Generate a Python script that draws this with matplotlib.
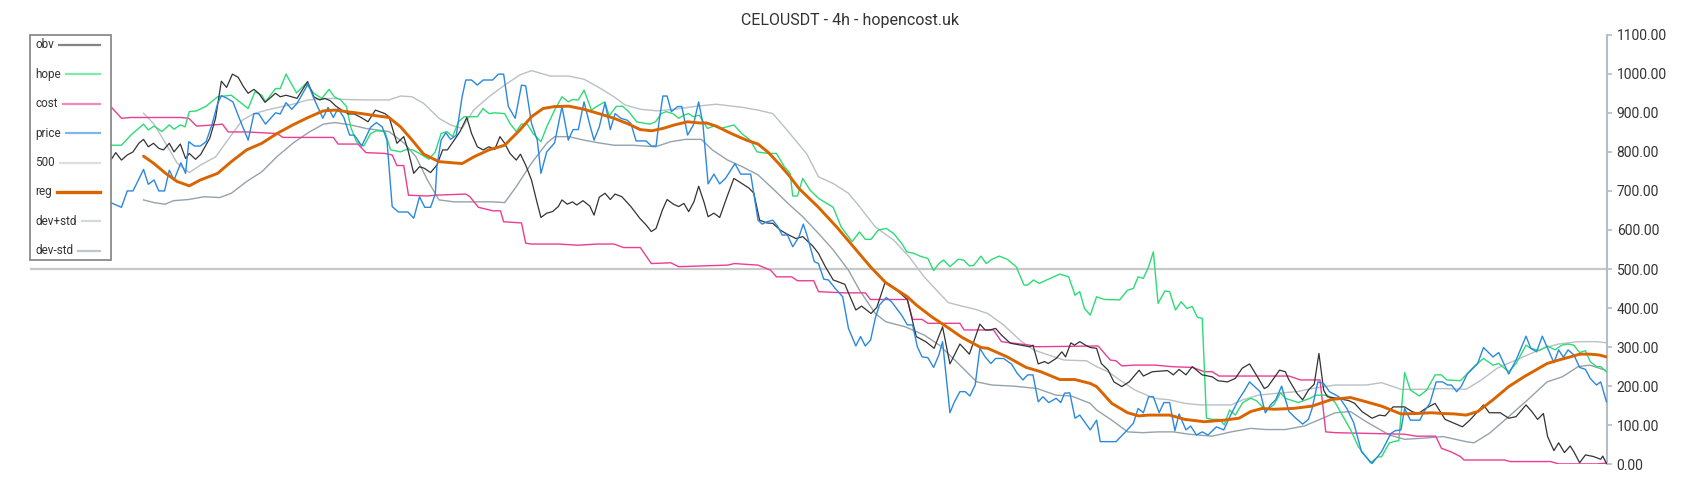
import matplotlib
matplotlib.use("Agg")
import matplotlib.pyplot as plt
from matplotlib.patches import Rectangle
from matplotlib.lines import Line2D
from matplotlib.ticker import FormatStrFormatter

plt.rcParams['font.family'] = ['Roboto', 'DejaVu Sans']

TITLE = "CELOUSDT - 4h - hopencost.uk"
LEGEND_LABELS = ["obv", "hope", "cost", "price", "500", "reg", "dev+std", "dev-std"]
Y_TICKS = [0, 100, 200, 300, 400, 500, 600, 700, 800, 900, 1000, 1100]
LEVEL = 500

# (bar index, value) pairs
price = [(15.0, 672), (17.4, 658), (18.5, 700), (19.6, 700), (21.6, 755), (22.5, 717), (23.6, 728), (24.5, 700),
         (25.6, 700), (26.5, 753), (27.4, 728), (28.7, 772), (29.6, 745), (30.2, 826), (31.3, 815), (32.4, 815),
         (33.5, 826), (34.6, 869), (35.7, 924), (36.4, 944), (37.5, 937), (38.6, 928), (39.7, 890), (41.5, 830),
         (42.6, 898), (43.5, 898), (44.8, 871), (46.7, 900), (47.6, 897), (48.7, 926), (49.8, 909), (50.8, 924),
         (52.9, 974), (54.0, 937), (55.7, 886), (56.7, 914), (57.7, 888), (58.6, 911), (59.7, 888), (60.8, 843),
         (61.7, 843), (63.1, 815), (64.8, 863), (65.9, 875), (67.0, 864), (67.9, 830), (68.9, 660), (70.1, 646),
         (71.9, 646), (73.0, 630), (74.1, 685), (75.1, 658), (76.2, 658), (77.1, 692), (77.4, 762), (78.2, 830),
         (79.1, 849), (80.0, 832), (81.1, 843), (82.2, 941), (82.9, 984), (84.0, 984), (85.1, 971), (86.2, 984),
         (88.0, 984), (89.1, 999), (90.1, 999), (91.0, 916), (92.3, 886), (93.5, 971), (94.3, 969), (95.4, 873),
         (96.5, 830), (97.2, 745), (98.3, 800), (99.8, 823), (101.2, 916), (102.4, 830), (103.3, 857), (104.3, 857),
         (105.4, 928), (106.5, 869), (107.3, 830), (108.3, 864), (109.4, 926), (110.4, 857), (111.3, 898),
         (112.4, 886), (113.6, 881), (114.3, 873), (115.3, 828), (117.2, 828), (118.2, 815), (119.1, 815),
         (119.7, 881), (120.4, 943), (121.2, 943), (122.0, 903), (123.2, 916), (124.0, 916), (125.1, 843),
         (126.2, 869), (127.2, 928), (128.0, 873), (129.0, 718), (130.1, 743), (131.2, 718), (132.3, 732),
         (134.1, 770), (135.2, 743), (137.1, 743), (138.5, 625), (139.3, 615), (140.2, 621), (141.3, 625),
         (142.2, 610), (143.1, 587), (144.1, 587), (145.1, 557), (146.3, 583), (147.1, 615), (147.8, 587),
         (149.2, 519), (150.0, 514), (151.0, 474), (151.9, 472), (153.2, 450), (154.6, 429), (155.7, 348),
         (157.1, 303), (158.0, 327), (158.9, 303), (159.9, 318), (160.8, 374), (161.6, 408), (162.9, 427),
         (163.9, 416), (165.8, 382), (166.9, 357), (167.9, 357), (168.8, 301), (169.7, 275), (170.8, 273),
         (171.9, 248), (172.9, 280), (173.6, 314), (175.0, 132), (175.8, 158), (176.9, 186), (177.9, 186),
         (178.8, 175), (179.8, 203), (180.7, 297), (181.7, 275), (182.8, 258), (183.7, 271), (185.2, 271),
         (186.7, 257), (187.8, 233), (188.9, 216), (189.8, 229), (190.8, 229), (191.8, 160), (192.7, 173),
         (193.8, 158), (195.2, 169), (196.1, 158), (196.8, 182), (197.8, 183), (198.8, 118), (199.7, 126),
         (200.6, 109), (201.7, 88), (202.9, 113), (203.6, 58), (206.6, 58), (208.4, 83), (209.9, 105),
         (210.8, 143), (211.8, 132), (212.8, 173), (213.7, 173), (214.8, 132), (215.7, 158), (216.8, 158),
         (217.8, 86), (218.6, 129), (219.9, 88), (220.8, 98), (221.9, 75), (223.0, 83), (224.1, 75), (225.7, 96),
         (227.1, 88), (228.4, 126), (229.9, 165), (231.1, 190), (232.0, 211), (234.0, 186), (235.0, 132),
         (236.0, 152), (237.0, 166), (238.1, 200), (239.5, 135), (240.8, 118), (242.1, 103), (243.2, 115),
         (243.9, 143), (245.0, 211), (246.1, 207), (247.2, 186), (249.0, 173), (250.5, 143), (251.8, 107),
         (253.3, 32), (255.3, 2), (257.1, 32), (258.9, 79), (259.7, 86), (260.8, 88), (261.5, 143), (262.6, 113),
         (264.4, 113), (265.2, 135), (266.3, 156), (267.5, 211), (268.7, 211), (269.7, 203), (270.4, 203),
         (271.4, 186), (272.3, 200), (273.4, 231), (275.4, 258), (276.5, 299), (278.3, 275), (279.4, 286),
         (281.3, 231), (282.7, 267), (284.6, 328), (285.5, 297), (286.6, 288), (287.7, 328), (288.7, 297),
         (289.9, 260), (290.8, 293), (291.7, 274), (292.6, 293), (293.7, 280), (294.8, 248), (295.9, 243),
         (296.8, 220), (298.0, 203), (298.8, 211), (299.9, 160)]

obv = [(15.0, 771), (16.3, 798), (17.4, 779), (18.5, 792), (19.6, 800), (20.7, 822), (21.6, 832), (22.5, 813),
       (23.5, 822), (24.5, 809), (25.4, 805), (26.5, 822), (27.4, 800), (28.6, 820), (29.6, 783), (30.3, 796),
       (31.5, 781), (32.5, 794), (34.2, 835), (35.3, 886), (36.4, 981), (37.4, 965), (38.5, 999), (39.6, 991),
       (40.6, 967), (41.5, 950), (42.6, 960), (43.5, 950), (44.7, 927), (45.6, 937), (46.7, 950), (47.6, 941),
       (48.7, 945), (49.8, 941), (50.8, 937), (52.8, 980), (54.0, 941), (55.1, 933), (56.1, 937), (57.1, 931),
       (58.2, 917), (59.3, 907), (60.6, 897), (61.7, 897), (63.0, 888), (64.3, 877), (65.7, 907), (67.5, 898),
       (68.3, 890), (69.8, 822), (71.1, 839), (71.9, 805), (73.0, 745), (74.1, 762), (75.0, 758), (76.2, 747),
       (77.4, 766), (78.5, 805), (79.4, 805), (80.7, 830), (81.8, 852), (83.1, 888), (84.0, 847), (85.1, 813),
       (86.2, 805), (87.3, 813), (88.4, 806), (89.4, 839), (90.3, 822), (91.3, 796), (92.5, 779), (93.3, 794),
       (94.3, 766), (95.4, 728), (96.5, 668), (97.2, 632), (98.3, 643), (99.4, 647), (100.5, 660), (101.2, 677),
       (102.2, 666), (103.2, 672), (104.0, 664), (105.2, 675), (106.5, 661), (107.3, 638), (108.3, 684),
       (109.4, 694), (110.4, 678), (111.3, 692), (112.6, 685), (114.3, 660), (116.0, 630), (117.2, 613),
       (118.2, 596), (119.1, 604), (120.3, 651), (121.2, 678), (122.4, 666), (123.4, 660), (124.4, 668),
       (125.3, 647), (126.3, 672), (127.2, 712), (128.2, 672), (129.0, 634), (130.1, 643), (131.2, 632),
       (132.6, 685), (133.9, 732), (135.2, 721), (136.8, 707), (137.7, 694), (138.8, 625), (140.2, 618),
       (141.3, 617), (142.7, 600), (143.8, 591), (145.7, 578), (147.0, 583), (148.9, 559), (150.0, 540),
       (151.3, 506), (152.8, 472), (155.0, 461), (157.1, 395), (158.2, 405), (160.0, 386), (161.1, 402),
       (162.7, 467), (164.0, 456), (166.9, 422), (168.6, 327), (170.4, 314), (172.0, 297), (173.6, 352),
       (175.0, 257), (176.9, 308), (178.7, 282), (180.7, 359), (181.7, 344), (182.6, 344), (183.7, 348),
       (184.8, 331), (186.5, 310), (190.2, 301), (190.8, 305), (191.8, 257), (193.0, 263), (193.7, 258),
       (195.2, 271), (196.3, 288), (197.0, 275), (198.0, 311), (198.7, 305), (199.7, 314), (200.8, 305),
       (201.7, 299), (202.9, 297), (203.8, 258), (205.1, 241), (206.2, 211), (207.7, 199), (209.1, 211),
       (211.0, 241), (211.8, 226), (213.5, 237), (216.4, 240), (217.5, 229), (218.6, 243), (219.9, 229),
       (221.1, 250), (223.0, 229), (224.9, 224), (226.0, 214), (227.8, 211), (229.3, 220), (230.6, 246),
       (232.0, 257), (233.5, 224), (234.8, 194), (235.5, 199), (237.7, 241), (238.8, 237), (239.5, 216),
       (241.0, 182), (242.1, 165), (243.2, 190), (244.3, 205), (245.2, 284), (246.1, 190), (246.8, 173),
       (248.7, 169), (250.9, 163), (252.0, 156), (253.4, 135), (255.3, 118), (256.7, 126), (257.8, 124),
       (259.3, 147), (261.5, 147), (262.9, 135), (264.1, 130), (265.5, 143), (267.3, 156), (269.2, 115),
       (270.6, 107), (272.5, 96), (273.9, 113), (275.4, 135), (276.5, 152), (277.6, 132), (279.7, 132),
       (281.3, 118), (282.7, 122), (284.6, 152), (285.7, 135), (286.8, 115), (287.9, 130), (288.7, 71),
       (289.9, 35), (290.8, 55), (291.9, 30), (293.0, 47), (293.7, 32), (294.8, 4), (295.9, 24), (297.4, 20),
       (298.8, 13), (299.2, 21), (299.9, 2)]

hope = [(15.0, 817), (17.4, 817), (19.2, 843), (21.6, 871), (22.5, 856), (23.6, 866), (25.1, 852), (26.5, 869),
        (27.4, 858), (28.6, 869), (29.5, 864), (30.3, 903), (31.7, 905), (33.5, 917), (35.7, 941), (38.3, 945),
        (40.1, 926), (41.5, 911), (42.8, 954), (44.1, 945), (44.8, 928), (46.7, 962), (47.6, 962), (48.7, 999),
        (50.7, 951), (52.5, 975), (54.0, 950), (55.5, 937), (56.9, 960), (57.9, 941), (59.1, 933), (60.2, 916),
        (61.0, 864), (62.1, 826), (63.5, 815), (64.8, 847), (65.9, 854), (67.5, 852), (68.6, 805), (70.5, 800),
        (71.6, 806), (72.8, 805), (74.1, 796), (75.9, 781), (77.1, 800), (78.2, 847), (79.3, 852), (80.4, 839),
        (81.5, 877), (82.6, 890), (85.1, 890), (86.2, 911), (87.3, 898), (88.4, 900), (90.3, 898), (91.3, 873),
        (92.5, 852), (93.5, 871), (94.6, 871), (95.7, 847), (97.2, 826), (98.3, 864), (99.8, 907), (101.2, 941),
        (102.4, 928), (103.2, 934), (104.3, 933), (105.4, 958), (106.8, 907), (107.8, 916), (109.3, 928),
        (110.2, 892), (111.5, 916), (112.7, 917), (113.9, 903), (115.4, 877), (117.9, 871), (119.0, 877),
        (120.1, 898), (121.0, 903), (122.3, 898), (123.4, 886), (124.4, 894), (125.3, 898), (126.2, 890),
        (127.3, 894), (128.9, 860), (130.1, 866), (131.2, 860), (132.3, 863), (133.9, 869), (135.4, 847),
        (137.0, 830), (138.3, 800), (140.4, 796), (142.0, 796), (143.5, 762), (144.6, 745), (145.1, 687),
        (146.0, 687), (147.0, 732), (148.4, 702), (150.0, 681), (152.8, 658), (154.3, 608), (156.4, 570),
        (157.8, 595), (158.9, 576), (160.0, 576), (161.4, 600), (162.9, 604), (164.3, 591), (165.8, 566),
        (166.8, 544), (168.2, 540), (169.3, 533), (170.8, 527), (171.9, 496), (172.9, 514), (173.8, 523),
        (175.0, 506), (176.6, 525), (177.6, 523), (178.7, 508), (179.5, 509), (180.9, 533), (181.9, 514),
        (183.0, 525), (184.4, 533), (185.9, 525), (187.6, 506), (189.1, 459), (189.8, 459), (190.9, 472),
        (192.0, 463), (193.4, 472), (195.9, 487), (197.6, 480), (198.8, 433), (199.7, 442), (200.6, 399),
        (201.7, 382), (202.9, 429), (204.4, 422), (207.3, 421), (208.8, 446), (209.9, 450), (210.8, 480),
        (211.8, 476), (212.8, 506), (213.7, 544), (214.6, 412), (215.9, 444), (216.8, 442), (217.9, 395),
        (219.0, 416), (220.1, 399), (221.1, 404), (222.1, 376), (223.0, 374), (223.8, 118), (224.9, 115),
        (226.3, 115), (227.2, 101), (228.2, 139), (229.3, 126), (230.7, 158), (232.2, 169), (233.3, 163),
        (235.1, 139), (236.6, 152), (237.9, 183), (238.8, 169), (241.3, 158), (243.5, 169), (244.6, 177),
        (246.8, 177), (248.3, 158), (249.8, 122), (251.2, 89), (252.7, 45), (254.2, 18), (255.0, 4),
        (256.4, 19), (257.1, 19), (258.6, 55), (260.0, 60), (260.4, 60), (261.5, 235), (262.6, 190),
        (264.3, 175), (265.7, 190), (267.3, 229), (268.5, 229), (269.5, 216), (272.1, 214), (273.2, 229),
        (274.7, 250), (276.5, 271), (278.3, 254), (279.4, 258), (281.3, 237), (282.7, 258), (284.6, 305),
        (285.5, 297), (287.1, 291), (288.7, 303), (290.1, 293), (291.4, 305), (292.6, 308), (293.7, 305),
        (294.8, 286), (295.9, 291), (296.8, 263), (298.0, 250), (298.8, 250), (299.9, 237)]

cost = [(15.0, 914), (15.5, 914), (17.4, 886), (19.2, 888), (28.7, 888), (30.2, 886), (31.7, 866), (35.0, 869),
        (36.6, 871), (37.7, 851), (41.2, 851), (47.0, 847), (48.1, 837), (57.7, 837), (58.6, 820), (62.4, 820),
        (63.9, 798), (67.5, 796), (68.9, 792), (69.8, 765), (71.1, 765), (72.0, 689), (75.6, 687), (77.1, 689),
        (82.9, 692), (83.7, 685), (85.3, 658), (88.1, 649), (89.5, 649), (90.1, 621), (93.5, 618), (94.3, 566),
        (95.4, 564), (100.5, 564), (104.2, 561), (108.0, 564), (111.1, 564), (112.9, 555), (116.1, 555),
        (118.2, 514), (121.9, 516), (123.4, 506), (132.7, 510), (134.0, 514), (138.5, 510), (140.9, 497),
        (142.0, 480), (144.9, 480), (146.0, 470), (149.1, 470), (150.0, 442), (155.0, 439), (158.9, 439),
        (159.9, 422), (166.9, 422), (167.9, 371), (169.7, 371), (170.8, 361), (176.9, 361), (177.7, 344),
        (183.3, 344), (184.8, 314), (190.2, 305), (191.3, 301), (203.2, 303), (205.5, 267), (206.6, 265),
        (207.7, 252), (210.2, 254), (213.9, 254), (215.7, 252), (217.2, 250), (221.2, 248), (223.4, 237),
        (224.9, 237), (226.2, 226), (239.5, 226), (241.7, 216), (245.4, 216), (246.5, 83), (248.3, 81),
        (261.5, 77), (263.7, 72), (267.4, 72), (268.5, 41), (270.3, 32), (272.1, 20), (272.8, 11), (280.5, 11),
        (281.6, 7), (289.3, 7), (290.8, 1), (298.1, 1), (299.9, 3)]

reg = [(21.6, 789), (23.6, 770), (25.8, 745), (28.0, 724), (30.3, 713), (32.4, 728), (35.7, 745), (38.3, 775),
       (41.2, 805), (44.1, 822), (47.0, 847), (50.0, 869), (52.9, 888), (55.8, 905), (58.0, 907), (60.2, 903),
       (63.1, 898), (66.1, 892), (68.3, 888), (70.5, 864), (72.7, 830), (74.9, 794), (77.8, 775), (82.2, 770),
       (84.4, 787), (87.3, 805), (90.3, 817), (93.2, 856), (95.4, 890), (97.6, 911), (99.8, 916), (102.5, 917),
       (105.4, 909), (108.2, 898), (111.1, 886), (113.9, 871), (116.1, 857), (118.3, 854), (120.4, 860),
       (122.6, 869), (125.1, 877), (127.3, 874), (128.7, 874), (130.5, 866), (133.4, 847), (136.3, 830),
       (138.5, 820), (140.5, 798), (142.7, 766), (144.6, 736), (146.3, 706), (150.0, 658), (153.5, 607),
       (156.4, 561), (160.0, 504), (162.8, 465), (166.9, 429), (168.6, 408), (171.5, 378), (174.4, 352),
       (177.3, 325), (180.9, 299), (182.2, 297), (185.9, 275), (189.5, 248), (192.3, 237), (195.9, 217),
       (198.8, 217), (201.7, 207), (202.9, 199), (205.8, 156), (208.8, 132), (210.9, 124), (212.8, 126),
       (216.8, 126), (219.7, 115), (223.4, 109), (227.1, 113), (230.0, 118), (232.2, 135), (234.4, 143),
       (236.6, 141), (240.3, 143), (243.9, 149), (247.6, 166), (251.2, 171), (254.2, 160), (257.1, 149),
       (260.8, 129), (263.7, 130), (266.6, 132), (268.8, 130), (271.0, 129), (273.2, 126), (275.4, 135),
       (278.3, 165), (281.3, 199), (284.2, 224), (286.4, 241), (288.6, 258), (290.8, 267), (293.0, 275),
       (294.8, 282), (296.7, 282), (298.5, 280), (299.9, 275)]

dev_plus = [(21.6, 899), (23.6, 871), (25.8, 822), (28.0, 771), (30.3, 747), (32.4, 766), (35.3, 787), (38.3, 843),
            (40.4, 881), (42.6, 898), (45.6, 909), (50.0, 922), (52.9, 933), (57.3, 937), (60.2, 934), (63.9, 933),
            (68.3, 933), (70.5, 943), (72.7, 941), (74.9, 924), (77.8, 886), (80.0, 869), (82.2, 860), (84.4, 907),
            (87.3, 941), (90.3, 971), (93.2, 997), (95.4, 1008), (99.0, 994), (102.5, 994), (105.4, 986),
            (108.2, 965), (111.1, 941), (113.2, 920), (116.1, 909), (119.3, 905), (122.6, 909), (126.9, 917),
            (130.5, 922), (135.5, 914), (138.5, 907), (141.3, 898), (143.5, 864), (145.6, 830), (147.8, 794),
            (150.0, 736), (152.8, 719), (155.7, 694), (157.8, 660), (160.8, 608), (164.3, 574), (167.2, 532),
            (170.1, 480), (173.0, 438), (174.7, 414), (177.3, 405), (179.8, 397), (182.2, 386), (185.2, 357),
            (188.3, 318), (190.9, 293), (193.7, 280), (196.7, 267), (201.0, 265), (202.9, 250), (205.1, 237),
            (207.3, 216), (210.2, 190), (213.9, 169), (216.8, 165), (219.7, 156), (222.7, 152), (228.5, 152),
            (230.7, 165), (233.7, 177), (237.3, 182), (241.0, 186), (243.9, 194), (248.3, 203), (254.2, 203),
            (257.1, 209), (260.8, 192), (265.2, 192), (268.8, 194), (273.2, 192), (276.1, 216), (279.1, 246),
            (282.0, 263), (284.9, 280), (287.9, 297), (290.8, 308), (294.5, 314), (298.1, 314), (299.9, 311)]

dev_minus = [(21.6, 677), (23.6, 670), (25.7, 666), (27.3, 675), (30.2, 678), (33.1, 685), (36.1, 683), (38.3, 694),
             (41.2, 724), (44.1, 749), (47.0, 788), (50.0, 822), (52.9, 849), (55.8, 871), (58.0, 875), (61.0, 869),
             (63.9, 860), (68.3, 852), (71.2, 822), (73.4, 788), (75.6, 728), (77.8, 677), (80.7, 672), (84.4, 672),
             (88.1, 672), (90.3, 670), (92.5, 711), (95.4, 771), (98.3, 822), (99.8, 839), (102.5, 839),
             (105.4, 830), (108.2, 823), (111.1, 817), (114.7, 817), (119.0, 813), (121.9, 826), (124.7, 832),
             (127.7, 832), (129.8, 805), (132.7, 779), (135.5, 762), (138.5, 741), (141.3, 706), (144.2, 668),
             (147.0, 634), (150.0, 591), (152.8, 549), (155.7, 497), (157.8, 446), (160.8, 386), (162.8, 365),
             (166.5, 352), (170.1, 331), (173.0, 305), (176.6, 258), (180.1, 211), (183.0, 203), (187.3, 200),
             (191.6, 194), (195.2, 177), (198.1, 175), (201.7, 156), (202.9, 139), (205.8, 113), (208.8, 83),
             (211.7, 81), (214.6, 83), (217.5, 83), (220.5, 77), (224.9, 72), (228.5, 83), (232.2, 92), (235.1, 89),
             (238.8, 89), (242.4, 98), (245.4, 115), (248.3, 132), (251.2, 135), (254.2, 109), (258.6, 75),
             (261.5, 64), (265.2, 67), (268.8, 71), (273.2, 58), (274.7, 55), (277.6, 79), (281.3, 122),
             (284.9, 165), (288.6, 211), (291.5, 224), (294.5, 250), (296.7, 254), (299.9, 240)]

COLORS = {
    "obv": "#333333",
    "hope": "#2ddb76",
    "cost": "#eb3d94",
    "price": "#2a88e0",
    "500": "#c8c8c8",
    "reg": "#d96400",
    "dev+std": "#b9c0c6",
    "dev-std": "#94a2ac",
}

W, H = 1700, 500
fig = plt.figure(figsize=(W / 100, H / 100), dpi=100)
ax = fig.add_axes([30 / W, 1 - 464.3 / H, (1607 - 30) / W, (464.3 - 34.7) / H])


def xy(series):
    return [p[0] for p in series], [p[1] for p in series]


ax.axhline(LEVEL, color=COLORS["500"], lw=1.6, zorder=1)
ax.plot(*xy(dev_plus), color=COLORS["dev+std"], lw=1.0, zorder=2)
ax.plot(*xy(dev_minus), color=COLORS["dev-std"], lw=1.0, zorder=2)
ax.plot(*xy(cost), color=COLORS["cost"], lw=1.0, zorder=3)
ax.plot(*xy(hope), color=COLORS["hope"], lw=1.0, zorder=3)
ax.plot(*xy(obv), color=COLORS["obv"], lw=0.9, zorder=4)
ax.plot(*xy(price), color=COLORS["price"], lw=1.0, zorder=4)
ax.plot(*xy(reg), color=COLORS["reg"], lw=2.1, zorder=5, solid_capstyle="round")

ax.set_xlim(0, 300)
ax.set_ylim(0, 1100)
for s in ["left", "top", "bottom"]:
    ax.spines[s].set_visible(False)
ax.spines["right"].set_color("#b4bec6")
ax.spines["right"].set_linewidth(1.5)
ax.set_xticks([])
ax.yaxis.tick_right()
ax.set_yticks(Y_TICKS)
ax.yaxis.set_major_formatter(FormatStrFormatter("%.2f"))
ax.tick_params(axis="y", length=3.5, width=1.2, color="#b4bec6", labelcolor="#333333", labelsize=10, pad=3.5)
ax.patch.set_alpha(0)

fig.text(0.5, 1 - 20.5 / H, TITLE, ha="center", va="center", fontsize=11.5, color="#333333")

# legend box drawn over the plot
fig.patches.append(Rectangle((30 / W, 1 - 260 / H), (111 - 30) / W, (260 - 35) / H, transform=fig.transFigure,
                             facecolor="white", edgecolor="#8a8a8a", linewidth=1.3, zorder=5, figure=fig))
renderer = fig.canvas.get_renderer()
for i, lab in enumerate(LEGEND_LABELS):
    yc = 1 - (45 + i * 29.4) / H
    t = fig.text(35 / W, yc, lab, ha="left", va="center", fontsize=8.5, color="#333333", zorder=6)
    bb = t.get_window_extent(renderer=renderer)
    x0 = (bb.x1 + 5) / W
    lw = 2.4 if lab == "reg" else 1.6
    alpha = 1.0 if lab == "reg" else 0.6
    fig.lines.append(Line2D([x0, 100 / W], [yc, yc], transform=fig.transFigure, color=COLORS[lab],
                            lw=lw, alpha=alpha, zorder=6, figure=fig))

fig.savefig("out.png", dpi=100)
